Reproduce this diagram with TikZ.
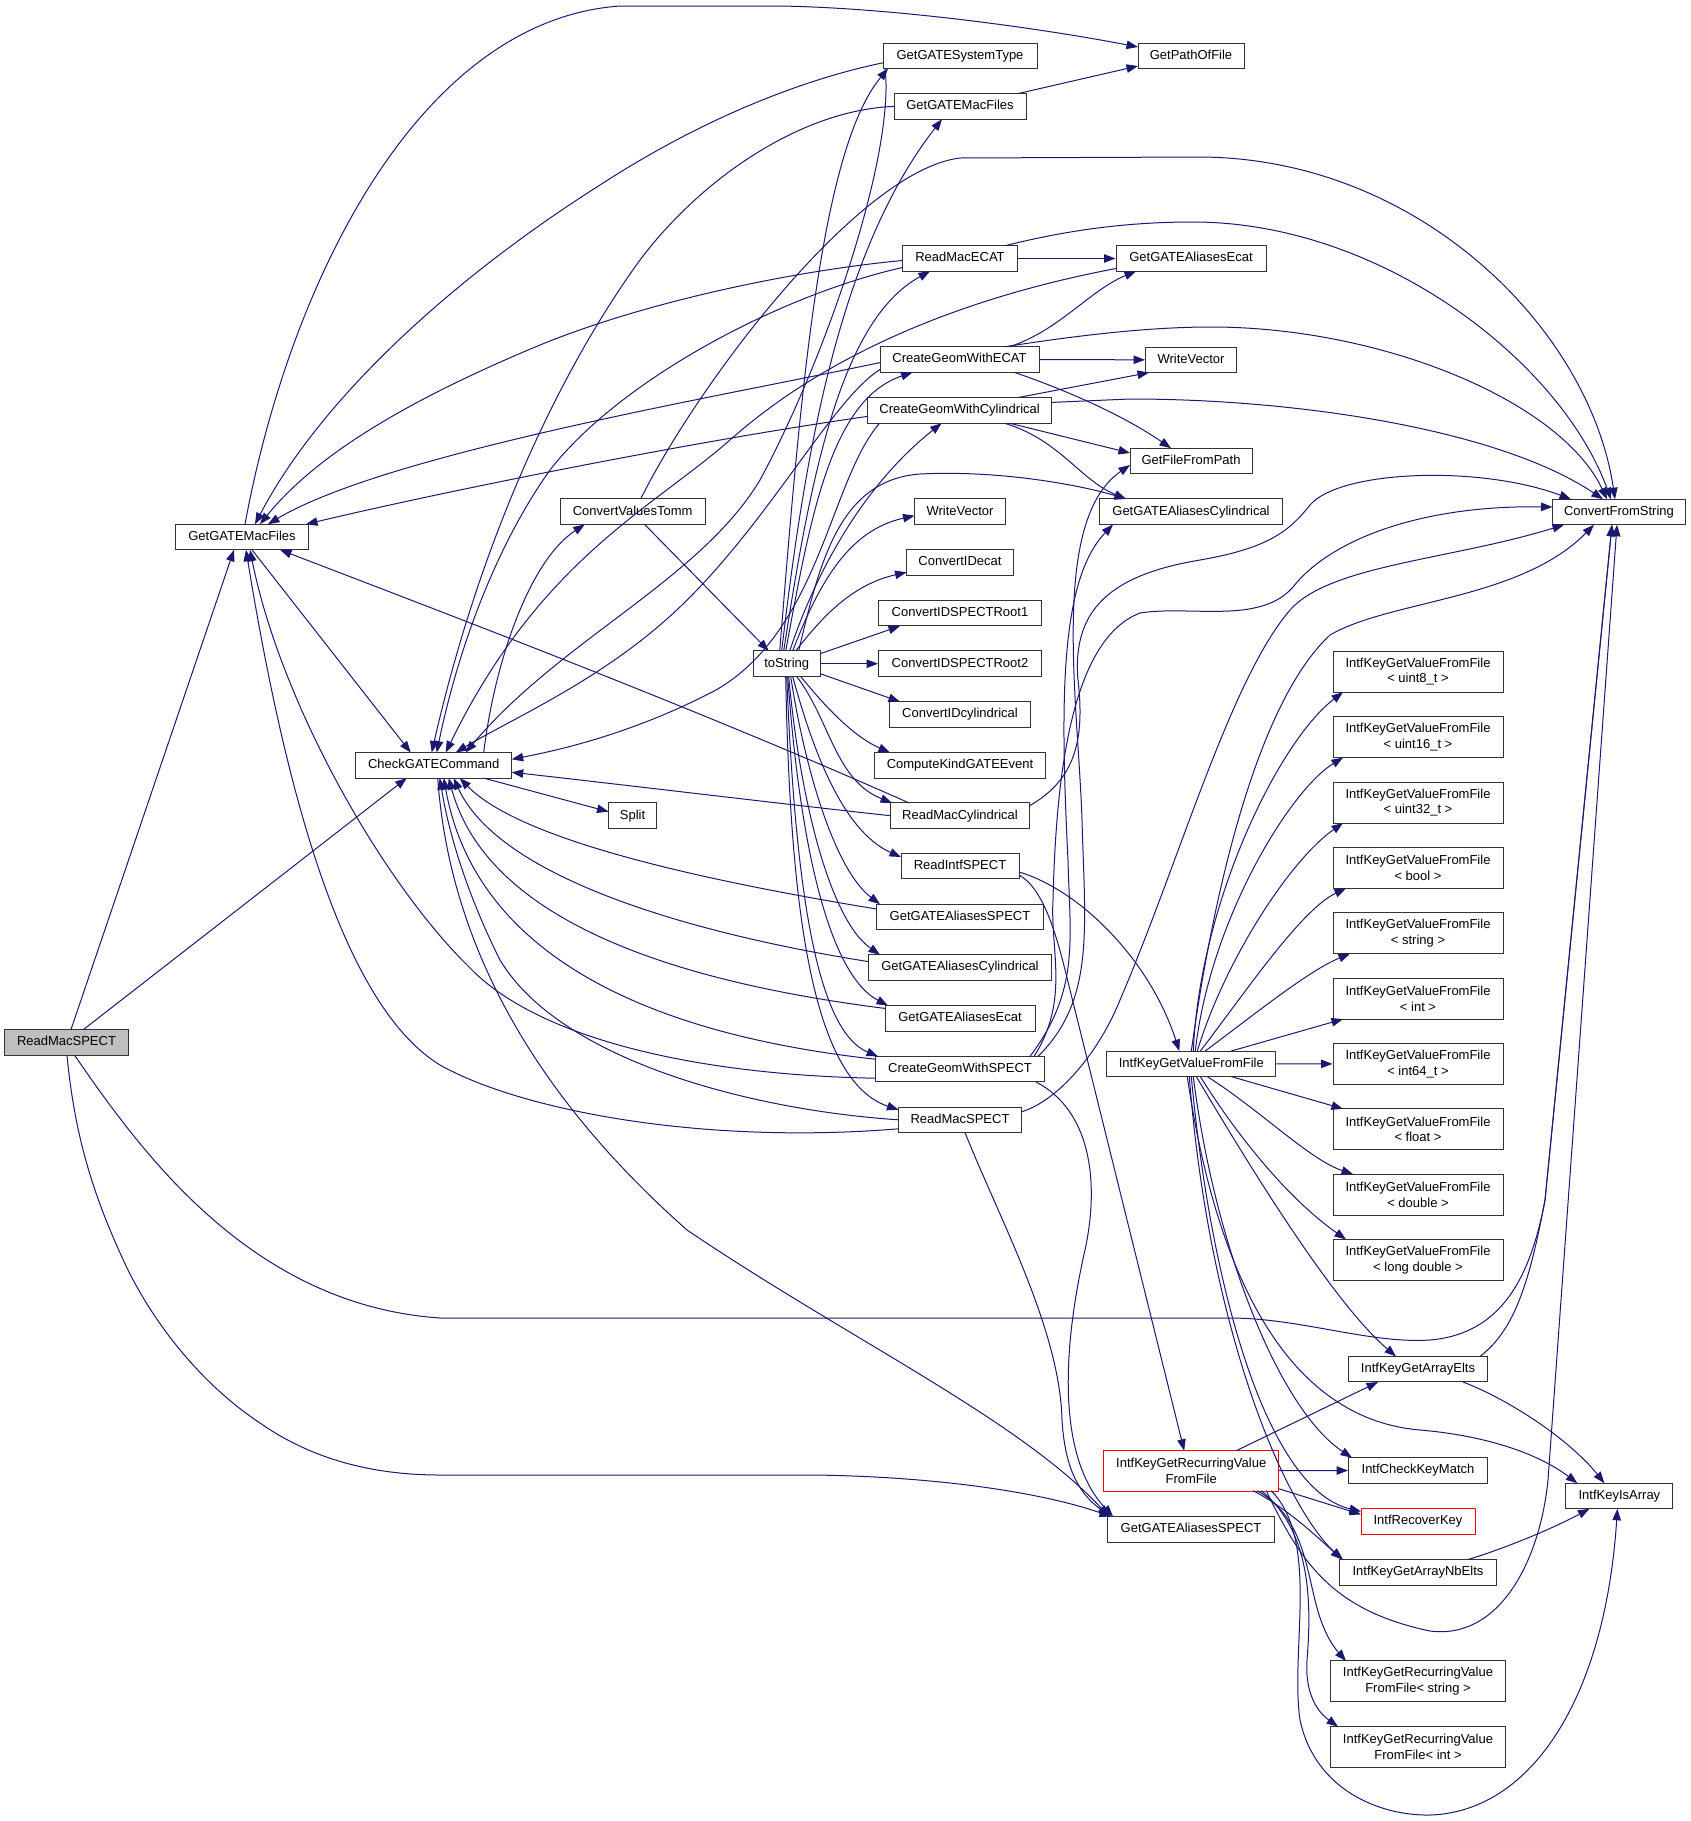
\documentclass[tikz,border=0pt]{standalone}
\usepackage{fontspec}
\setmainfont{Liberation Sans}
\usetikzlibrary{arrows.meta,calc}
\definecolor{edgec}{HTML}{191970}
\definecolor{bordc}{HTML}{333333}
\begin{document}
\begin{tikzpicture}[x=1pt,y=-1pt,
  nb/.style={draw=bordc, line width=1pt, fill=white, inner xsep=3pt, inner ysep=0pt, font=\fontsize{13}{15.6}\selectfont},
  box/.style={nb, minimum height=25.5pt, text height=9.4pt, text depth=2.8pt},
  box2/.style={nb, align=center, minimum height=41pt},
  redb/.style={draw=red},
  ed/.style={draw=edgec, line width=1pt, -{Triangle[length=11.5pt,width=8.5pt]}}]
\fill[white] (0,0) rectangle (1691,1821);
\useasboundingbox (0,0) rectangle (1691,1821);
% ---------------- nodes
\node[box,fill=black!25,minimum width=123.6pt] (rt) at (66.5,1042.3) {ReadMacSPECT};
\node[box,minimum width=133pt] (gmf1) at (242,537) {GetGATEMacFiles};
\node[box,minimum width=156pt] (chk) at (433.7,765.3) {CheckGATECommand};
\node[box,minimum width=145pt] (cvt) at (632.7,511.7) {ConvertValuesTomm};
\node[box,minimum width=48pt] (split) at (632.5,815.7) {Split};
\node[box,minimum width=67pt] (tos) at (786.7,663.7) {toString};
% column 5
\node[box,minimum width=154pt] (sys) at (960,55.8) {GetGATESystemType};
\node[box,minimum width=132pt] (gmf2) at (960,106.4) {GetGATEMacFiles};
\node[box,minimum width=115pt] (rme) at (960,258.5) {ReadMacECAT};
\node[box,minimum width=159pt] (cge) at (959.5,359.6) {CreateGeomWithECAT};
\node[box,minimum width=184pt] (cgc) at (959.6,410.4) {CreateGeomWithCylindrical};
\node[box,minimum width=91pt] (wv1) at (960,511.7) {WriteVector};
\node[box,minimum width=107pt] (cide) at (960,562.3) {ConvertIDecat};
\node[box,minimum width=163pt] (r1) at (960,613.2) {ConvertIDSPECTRoot1};
\node[box,minimum width=163pt] (r2) at (960,663.7) {ConvertIDSPECTRoot2};
\node[box,minimum width=141pt] (cidc) at (960,714.5) {ConvertIDcylindrical};
\node[box,minimum width=171pt] (ckg) at (960,765.3) {ComputeKindGATEEvent};
\node[box,minimum width=139pt] (rmc) at (960,815.7) {ReadMacCylindrical};
\node[box,minimum width=118pt] (ris) at (960,866) {ReadIntfSPECT};
\node[box,minimum width=167pt] (gas1) at (960,917) {GetGATEAliasesSPECT};
\node[box,minimum width=183pt] (gac1) at (960,967.6) {GetGATEAliasesCylindrical};
\node[box,minimum width=150pt] (gae1) at (960,1018.4) {GetGATEAliasesEcat};
\node[box,minimum width=169pt] (cgs) at (960,1069.2) {CreateGeomWithSPECT};
\node[box,minimum width=123pt] (rms) at (960,1119.8) {ReadMacSPECT};
% column 6
\node[box,minimum width=106pt] (gpf) at (1191,56) {GetPathOfFile};
\node[box,minimum width=150pt] (gae2) at (1191,258.5) {GetGATEAliasesEcat};
\node[box,minimum width=91pt] (wv2) at (1191,359.8) {WriteVector};
\node[box,minimum width=122pt] (gffp) at (1191,461) {GetFileFromPath};
\node[box,minimum width=183pt] (gac2) at (1191,511.7) {GetGATEAliasesCylindrical};
\node[box,minimum width=169pt] (ikv) at (1191.3,1063.8) {IntfKeyGetValueFromFile};
\node[box2,redb,minimum width=175pt] (ikr) at (1191.2,1470.7) {IntfKeyGetRecurringValue\\FromFile};
\node[box,minimum width=167pt] (gas2) at (1191,1529.4) {GetGATEAliasesSPECT};
% column 7
\node[box2,minimum width=170pt] (t1) at (1418,671.7) {IntfKeyGetValueFromFile\\< uint8\_t >};
\node[box2,minimum width=170pt] (t2) at (1418,737.1) {IntfKeyGetValueFromFile\\< uint16\_t >};
\node[box2,minimum width=170pt] (t3) at (1418,802.5) {IntfKeyGetValueFromFile\\< uint32\_t >};
\node[box2,minimum width=170pt] (t4) at (1418,867.9) {IntfKeyGetValueFromFile\\< bool >};
\node[box2,minimum width=170pt] (t5) at (1418,933.2) {IntfKeyGetValueFromFile\\< string >};
\node[box2,minimum width=170pt] (t6) at (1418,998.6) {IntfKeyGetValueFromFile\\< int >};
\node[box2,minimum width=170pt] (t7) at (1418,1063.9) {IntfKeyGetValueFromFile\\< int64\_t >};
\node[box2,minimum width=170pt] (t8) at (1418,1129.3) {IntfKeyGetValueFromFile\\< float >};
\node[box2,minimum width=170pt] (t9) at (1418,1194.6) {IntfKeyGetValueFromFile\\< double >};
\node[box2,minimum width=170pt] (t10) at (1418,1259.9) {IntfKeyGetValueFromFile\\< long double >};
\node[box,minimum width=139pt] (ikae) at (1418,1369.2) {IntfKeyGetArrayElts};
\node[box,minimum width=139pt] (ickm) at (1418,1470.5) {IntfCheckKeyMatch};
\node[box,redb,minimum width=114pt] (irk) at (1418,1521.4) {IntfRecoverKey};
\node[box,minimum width=157pt] (ikan) at (1418,1572.3) {IntfKeyGetArrayNbElts};
\node[box2,minimum width=175pt] (rs) at (1418,1681) {IntfKeyGetRecurringValue\\FromFile< string >};
\node[box2,minimum width=175pt] (ri) at (1418,1746.6) {IntfKeyGetRecurringValue\\FromFile< int >};
% column 8
\node[box,minimum width=133pt] (cfs) at (1619,512) {ConvertFromString};
\node[box,minimum width=107pt] (ikia) at (1619.4,1496) {IntfKeyIsArray};

% ---------------- edges: root
\draw[ed] ($(rt)+(4.5,-12.8)$) -- ($(gmf1)+(-8,12.8)$);
\draw[ed] ($(rt)+(17,-12.8)$) -- ($(chk)+(-27,12.8)$);
\draw[ed] ($(rt)+(8,12.8)$) .. controls (140,1150) and (250,1305) .. (440,1318) -- (1230,1318) .. controls (1300,1318) and (1370,1344) .. (1430,1340) .. controls (1500,1334) and (1530,1280) .. (1545,1200) -- ($(cfs)+(-7,12.8)$);
\draw[ed] ($(rt)+(0.5,12.8)$) .. controls (75,1140) and (95,1200) .. (127,1268) .. controls (160,1335) and (210,1390) .. (260,1423) .. controls (310,1458) and (370,1475) .. (440,1475) -- (815,1475) .. controls (950,1477) and (1050,1495) .. ($(gas2)+(-80,-12.8)$);

% gmf1
\draw[ed] ($(gmf1)+(3,-12.8)$) .. controls (290,280) and (420,20) .. (620,6) -- (780,6) .. controls (900,8) and (1050,30) .. ($(gpf)+(-53,-9)$);
\draw[ed] ($(gmf1)+(10,12.8)$) -- ($(chk)+(-23,-12.8)$);

% back edges to gmf1
\draw[ed] ($(sys)+(-77,7)$) .. controls (800,80) and (700,120) .. (600,185) .. controls (450,280) and (320,400) .. ($(gmf1)+(13,-12.8)$);
\draw[ed] ($(rme)+(-57.5,2)$) .. controls (800,270) and (650,300) .. (540,345) .. controls (420,395) and (320,450) .. ($(gmf1)+(18,-12.8)$);
\draw[ed] ($(cge)+(-79.5,3)$) .. controls (750,390) and (550,425) .. (400,470) .. controls (340,488) and (300,505) .. ($(gmf1)+(26,-12.8)$);
\draw[ed] ($(cgc)+(-92,6)$) .. controls (700,440) and (450,490) .. ($(gmf1)+(64,-12.8)$);
\draw[ed] ($(rmc)+(-51,-12.8)$) .. controls (700,710) and (450,615) .. ($(gmf1)+(38,12.8)$);
\draw[ed] ($(cgs)+(-84.5,9)$) .. controls (700,1075) and (540,1040) .. (470,968) .. controls (380,880) and (280,700) .. ($(gmf1)+(8,12.8)$);
\draw[ed] ($(rms)+(-61.5,9)$) .. controls (700,1145) and (520,1110) .. (440,1065) .. controls (350,1010) and (290,820) .. ($(gmf1)+(4,12.8)$);

% edges to / from chk
\draw[ed] ($(gmf2)+(-66,0)$) .. controls (800,110) and (700,180) .. (640,260) .. controls (560,370) and (480,540) .. ($(chk)+(-2,-12.8)$);
\draw[ed] ($(rme)+(-57.5,9)$) .. controls (780,295) and (620,380) .. (550,470) .. controls (500,540) and (460,640) .. ($(chk)+(3,-12.8)$);
\draw[ed] ($(gae2)+(-75,10)$) .. controls (950,300) and (820,360) .. (730,440) .. controls (650,510) and (540,560) .. ($(chk)+(12,-12.8)$);
\draw[ed] ($(cge)+(-79.5,10)$) .. controls (830,400) and (760,540) .. (660,625) .. controls (590,685) and (510,720) .. ($(chk)+(22,-12.8)$);
\draw[ed] ($(sys)+(-75,12.8)$) .. controls (895,150) and (830,350) .. (760,480) .. controls (700,580) and (560,640) .. ($(chk)+(32,-12.8)$);
\draw[ed] ($(cgc)+(-80,12.8)$) .. controls (830,480) and (820,630) .. (716,690) .. controls (640,730) and (570,748) .. ($(chk)+(78,-6)$);
\draw[ed] ($(rmc)+(-69.5,0)$) .. controls (800,806) and (600,782) .. ($(chk)+(78,7)$);
\draw[ed] ($(gas1)+(-83.5,-8)$) .. controls (700,880) and (520,840) .. ($(chk)+(26,12.8)$);
\draw[ed] ($(gac1)+(-91.5,-6)$) .. controls (700,935) and (500,880) .. ($(chk)+(20,12.8)$);
\draw[ed] ($(gae1)+(-75,-10)$) .. controls (700,985) and (490,930) .. ($(chk)+(15,12.8)$);
\draw[ed] ($(cgs)+(-84.5,-10)$) .. controls (700,1040) and (480,980) .. ($(chk)+(10,12.8)$);
\draw[ed] ($(rms)+(-61.5,0)$) .. controls (750,1110) and (560,1060) .. (500,960) .. controls (470,900) and (450,840) .. ($(chk)+(6,12.8)$);
\draw[ed] ($(chk)+(50,12.8)$) -- ($(split)+(-24,-4)$);
\draw[ed] ($(chk)+(50,-12.8)$) .. controls (495,660) and (530,560) .. ($(cvt)+(-48,12.8)$);
\draw[ed] ($(chk)+(4,12.8)$) .. controls (450,950) and (540,1100) .. (687,1230) .. controls (850,1340) and (1020,1420) .. ($(gas2)+(-82,-12.8)$);

% ConvertValuesTomm
\draw[ed] ($(cvt)+(12,12.8)$) -- ($(tos)+(-18,-12.8)$);
\draw[ed] ($(cvt)+(8,-12.8)$) .. controls (700,380) and (860,170) .. (960,158) -- (1200,157) .. controls (1420,158) and (1590,330) .. ($(cfs)+(-4,-12.8)$);

% toString
\draw[ed] ($(tos)+(-7,-12.8)$) .. controls (800,400) and (820,150) .. ($(sys)+(-72,12.8)$);
\draw[ed] ($(tos)+(-5,-12.8)$) .. controls (805,450) and (840,250) .. ($(gmf2)+(-18,12.8)$);
\draw[ed] ($(tos)+(-3,-12.8)$) .. controls (810,480) and (840,320) .. ($(rme)+(-30,12.8)$);
\draw[ed] ($(tos)+(-1,-12.8)$) .. controls (810,520) and (830,400) .. ($(cge)+(-47,12.8)$);
\draw[ed] ($(tos)+(3,-12.8)$) .. controls (820,560) and (870,480) .. ($(cgc)+(-18,12.8)$);
\draw[ed] ($(tos)+(12,-12.8)$) .. controls (820,560) and (840,480) .. (920,474) .. controls (1000,470) and (1080,485) .. ($(gac2)+(-65,-12.8)$);
\draw[ed] ($(tos)+(6,-12.8)$) .. controls (820,580) and (850,530) .. ($(wv1)+(-45.5,4)$);
\draw[ed] ($(tos)+(9,-12.8)$) .. controls (820,620) and (850,585) .. ($(cide)+(-53.5,10)$);
\draw[ed] ($(tos)+(33.5,-10)$) -- ($(r1)+(-60,12.8)$);
\draw[ed] (tos.east) -- (r2.west);
\draw[ed] ($(tos)+(33.5,10)$) -- ($(cidc)+(-60,-12.8)$);
\draw[ed] ($(tos)+(14,12.8)$) .. controls (820,700) and (850,735) .. ($(ckg)+(-70,-12.8)$);
\draw[ed] ($(tos)+(10,12.8)$) .. controls (830,720) and (835,780) .. ($(rmc)+(-68,-12.8)$);
\draw[ed] ($(tos)+(6,12.8)$) .. controls (810,740) and (840,830) .. ($(ris)+(-59,-9)$);
\draw[ed] ($(tos)+(4,12.8)$) .. controls (805,770) and (835,870) .. ($(gas1)+(-80,-12.8)$);
\draw[ed] ($(tos)+(2,12.8)$) .. controls (800,800) and (830,920) .. ($(gac1)+(-80,-12.8)$);
\draw[ed] ($(tos)+(1,12.8)$) .. controls (800,850) and (830,975) .. ($(gae1)+(-72,-12.8)$);
\draw[ed] ($(tos)+(0,12.8)$) .. controls (795,880) and (815,1030) .. ($(cgs)+(-82,-12.8)$);
\draw[ed] ($(tos)+(-1,12.8)$) .. controls (790,900) and (810,1080) .. ($(rms)+(-61.5,-10)$);

% column 5 -> column 6
\draw[ed] ($(gmf2)+(58,-12.8)$) -- ($(gpf)+(-53,10)$);
\draw[ed] (rme.east) -- (gae2.west);
\draw[ed] ($(cge)+(50,-12.8)$) .. controls (1060,330) and (1090,290) .. ($(gae2)+(-55,12.8)$);
\draw[ed] (cge.east) -- (wv2.west);
\draw[ed] ($(cgc)+(58,-12.8)$) -- ($(wv2)+(-42,12.8)$);
\draw[ed] ($(cge)+(55,12.8)$) .. controls (1080,395) and (1130,420) .. ($(gffp)+(-20,-12.8)$);
\draw[ed] ($(cgc)+(50,12.8)$) -- ($(gffp)+(-61,-8)$);
\draw[ed] ($(cgc)+(45,12.8)$) .. controls (1060,440) and (1080,480) .. ($(gac2)+(-65,-12.8)$);
\draw[ed] ($(cgs)+(78,-12.8)$) .. controls (1095,1000) and (1085,930) .. (1082,820) .. controls (1078,700) and (1050,520) .. ($(gffp)+(-61,4)$);
\draw[ed] ($(cgs)+(70,-12.8)$) .. controls (1080,990) and (1070,940) .. (1068,860) .. controls (1060,700) and (1060,580) .. ($(gac2)+(-78,12.8)$);
\draw[ed] ($(rms)+(5,12.8)$) .. controls (1000,1220) and (1060,1330) .. (1062,1420) .. controls (1065,1470) and (1080,1495) .. ($(gas2)+(-80,-13)$);
\draw[ed] ($(cgs)+(76,12.8)$) .. controls (1090,1110) and (1100,1180) .. (1085,1250) .. controls (1060,1360) and (1060,1460) .. ($(gas2)+(-78,-13)$);

% into ConvertFromString
\draw[ed] ($(rme)+(45,-12.8)$) .. controls (1060,232) and (1120,222) .. (1193,222) .. controls (1380,222) and (1560,360) .. ($(cfs)+(-8,-12.8)$);
\draw[ed] ($(cge)+(45,-12.8)$) .. controls (1080,335) and (1150,327) .. (1211,327) .. controls (1380,327) and (1560,400) .. ($(cfs)+(-12,-12.8)$);
\draw[ed] ($(cgc)+(92,-8)$) -- (1130,399) .. controls (1300,399) and (1500,430) .. ($(cfs)+(-16,-12.8)$);
\draw[ed] ($(rmc)+(69.5,-10)$) .. controls (1075,780) and (1085,740) .. (1078,680) .. controls (1072,610) and (1110,575) .. (1200,560) .. controls (1270,548) and (1290,530) .. (1310,505) .. controls (1340,470) and (1480,465) .. ($(cfs)+(-48,-12.8)$);
\draw[ed] ($(cgs)+(74,-12.8)$) .. controls (1070,1000) and (1050,950) .. (1053,900) .. controls (1056,780) and (1070,640) .. (1140,613) .. controls (1190,605) and (1260,625) .. (1293,587) .. controls (1330,540) and (1420,505) .. ($(cfs)+(-66.5,-5)$);
\draw[ed] ($(rms)+(61.5,-8)$) .. controls (1060,1100) and (1100,1050) .. (1120,1000) .. controls (1180,860) and (1230,680) .. (1290,610) .. controls (1330,565) and (1450,560) .. ($(cfs)+(-55,12.8)$);
\draw[ed] ($(ikv)+(0,-12.8)$) .. controls (1215,880) and (1260,700) .. (1330,635) .. controls (1390,600) and (1520,600) .. ($(cfs)+(-25,12.8)$);

% ReadIntfSPECT
\draw[ed] ($(ris)+(59,6)$) .. controls (1080,890) and (1150,960) .. ($(ikv)+(-12,-12.8)$);
\draw[ed] ($(ris)+(59,9)$) .. controls (1050,892) and (1062,960) .. (1075,1010) -- ($(ikr)+(-7,-20)$);

% IntfKeyGetValueFromFile
\draw[ed] ($(ikv)+(2,-12.8)$) .. controls (1200,900) and (1280,740) .. ($(t1)+(-75,20.5)$);
\draw[ed] ($(ikv)+(4,-12.8)$) .. controls (1210,920) and (1290,790) .. ($(t2)+(-75,20.5)$);
\draw[ed] ($(ikv)+(6,-12.8)$) .. controls (1225,960) and (1290,860) .. ($(t3)+(-75,20.5)$);
\draw[ed] ($(ikv)+(9,-12.8)$) .. controls (1240,1000) and (1300,910) .. ($(t4)+(-72,20.5)$);
\draw[ed] ($(ikv)+(14,-12.8)$) .. controls (1260,1010) and (1310,970) .. ($(t5)+(-68,20.5)$);
\draw[ed] ($(ikv)+(40,-12.8)$) -- ($(t6)+(-75,20.5)$);
\draw[ed] (ikv.east) -- (t7.west);
\draw[ed] ($(ikv)+(40,12.8)$) -- ($(t8)+(-75,-20.5)$);
\draw[ed] ($(ikv)+(16,12.8)$) .. controls (1260,1110) and (1310,1160) .. ($(t9)+(-65,-20.5)$);
\draw[ed] ($(ikv)+(9,12.8)$) .. controls (1240,1140) and (1290,1200) .. ($(t10)+(-72,-20.5)$);
\draw[ed] ($(ikv)+(5,12.8)$) .. controls (1240,1150) and (1330,1300) .. ($(ikae)+(-22,-12.8)$);
\draw[ed] ($(ikv)+(2,12.8)$) .. controls (1215,1250) and (1280,1410) .. ($(ickm)+(-66,-12.8)$);
\draw[ed] ($(ikv)+(0,12.8)$) .. controls (1212,1300) and (1270,1490) .. ($(irk)+(-57,-10)$);
\draw[ed] ($(ikv)+(-2,12.8)$) .. controls (1208,1320) and (1280,1500) .. ($(ikan)+(-76,-12.8)$);
\draw[ed] ($(ikv)+(-4,12.8)$) .. controls (1220,1300) and (1300,1420) .. (1420,1430) .. controls (1490,1436) and (1540,1455) .. ($(ikia)+(-42,-12.8)$);

% IntfKeyGetRecurringValueFromFile
\draw[ed] ($(ikr)+(45,-20)$) -- ($(ikae)+(-40,12.8)$);
\draw[ed] (ikr.east) -- (ickm.west);
\draw[ed] ($(ikr)+(87.5,18)$) -- ($(irk)+(-57,-7)$);
\draw[ed] ($(ikr)+(62,20)$) .. controls (1290,1510) and (1320,1540) .. ($(ikan)+(-75,-12.8)$);
\draw[ed] ($(ikr)+(66,20)$) .. controls (1300,1515) and (1305,1560) .. (1315,1600) .. controls (1322,1630) and (1332,1645) .. ($(rs)+(-72,-20)$);
\draw[ed] ($(ikr)+(70,20)$) .. controls (1310,1530) and (1312,1600) .. (1307,1660) .. controls (1305,1690) and (1315,1710) .. ($(ri)+(-80,-20)$);
\draw[ed] ($(ikr)+(80,20)$) .. controls (1320,1540) and (1290,1650) .. (1300,1720) .. controls (1315,1790) and (1380,1816) .. (1430,1815) .. controls (1530,1812) and (1605,1700) .. ($(ikia)+(-2,12.8)$);
\draw[ed] ($(ikr)+(75,20)$) .. controls (1300,1560) and (1330,1610) .. (1430,1631) .. controls (1500,1640) and (1540,1560) .. (1548,1480) -- ($(cfs)+(-2,12.8)$);

% array helpers
\draw[ed] ($(ikae)+(62,-12.8)$) .. controls (1515,1330) and (1530,1280) .. (1545,1200) -- ($(cfs)+(-7,12.8)$);
\draw[ed] ($(ikae)+(45,12.8)$) .. controls (1510,1400) and (1570,1440) .. ($(ikia)+(-15,-12.8)$);
\draw[ed] ($(ikan)+(50,-12.8)$) .. controls (1500,1550) and (1550,1530) .. ($(ikia)+(-30,12.8)$);
\end{tikzpicture}
\end{document}
